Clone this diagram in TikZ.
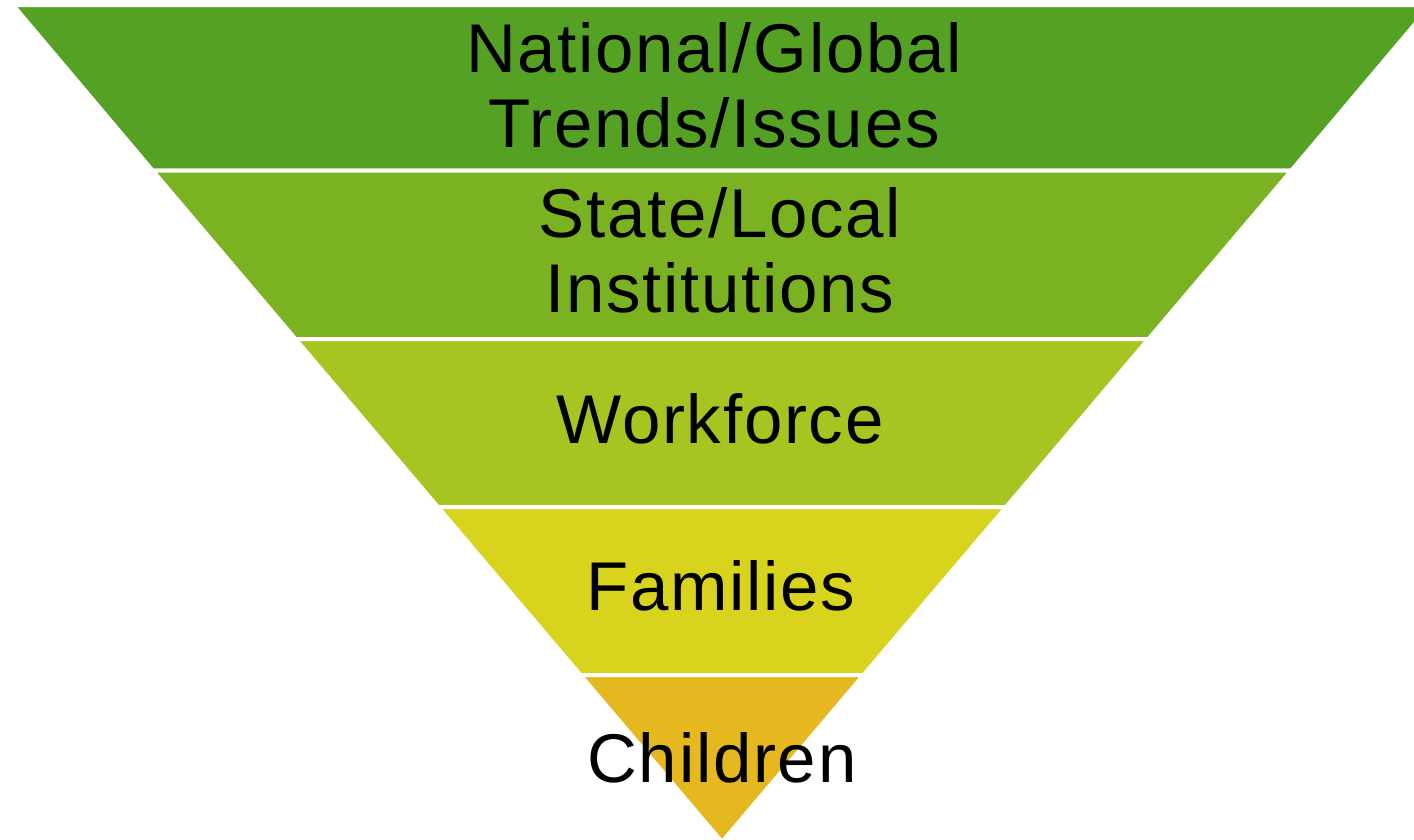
\documentclass[tikz,border=0pt]{standalone}
\usepackage{fontspec}
\setmainfont{Liberation Sans}[LetterSpace=2.5]
\definecolor{lay1}{HTML}{55A124}
\definecolor{lay2}{HTML}{7AB221}
\definecolor{lay3}{HTML}{A7C521}
\definecolor{lay4}{HTML}{D8D31C}
\definecolor{lay5}{HTML}{E6B820}
\tikzset{
  layer/.style={draw=white, line width=4pt, line join=miter},
  lbl/.style={inner sep=0pt, align=center, text=black, font=\fontsize{69}{75}\selectfont}
}
\begin{document}
\begin{tikzpicture}[x=1pt,y=-1pt]
\useasboundingbox (0,0) rectangle (1414,839);
\clip (0,0) rectangle (1414,839);
% layers
\coordinate (a0l) at (13,5);      \coordinate (a0r) at (1431,5);
\coordinate (a1l) at (152.6,170.5); \coordinate (a1r) at (1291.4,170.5);
\coordinate (a2l) at (295.5,339);   \coordinate (a2r) at (1148.5,339);
\coordinate (a3l) at (437.9,507);   \coordinate (a3r) at (1006.1,507);
\coordinate (a4l) at (580.4,675);   \coordinate (a4r) at (863.6,675);
\coordinate (apex) at (722,842);
\fill[lay1] (a0l) -- (a0r) -- (a1r) -- (a1l) -- cycle;
\draw[layer] (a0l) -- (a0r) -- (a1r) -- (a1l) -- cycle;
\fill[lay2] (a1l) -- (a1r) -- (a2r) -- (a2l) -- cycle;
\draw[layer] (a1l) -- (a1r) -- (a2r) -- (a2l) -- cycle;
\fill[lay3] (a2l) -- (a2r) -- (a3r) -- (a3l) -- cycle;
\draw[layer] (a2l) -- (a2r) -- (a3r) -- (a3l) -- cycle;
\fill[lay4] (a3l) -- (a3r) -- (a4r) -- (a4l) -- cycle;
\draw[layer] (a3l) -- (a3r) -- (a4r) -- (a4l) -- cycle;
\fill[lay5] (a4l) -- (a4r) -- (apex) -- cycle;
\draw[layer] (a4l) -- (a4r) -- (apex) -- cycle;
% labels
\node[lbl] (t1) at (714,85) {National/Global\\Trends/Issues};
\node[lbl] (t2) at (720,250) {State/Local\\Institutions};
\node[lbl, anchor=base] (t3) at (720,443) {Workforce};
\node[lbl, anchor=base] (t4) at (721,610) {Families};
\node[lbl, anchor=base] (t5) at (722,782) {Children};
\end{tikzpicture}
\end{document}
